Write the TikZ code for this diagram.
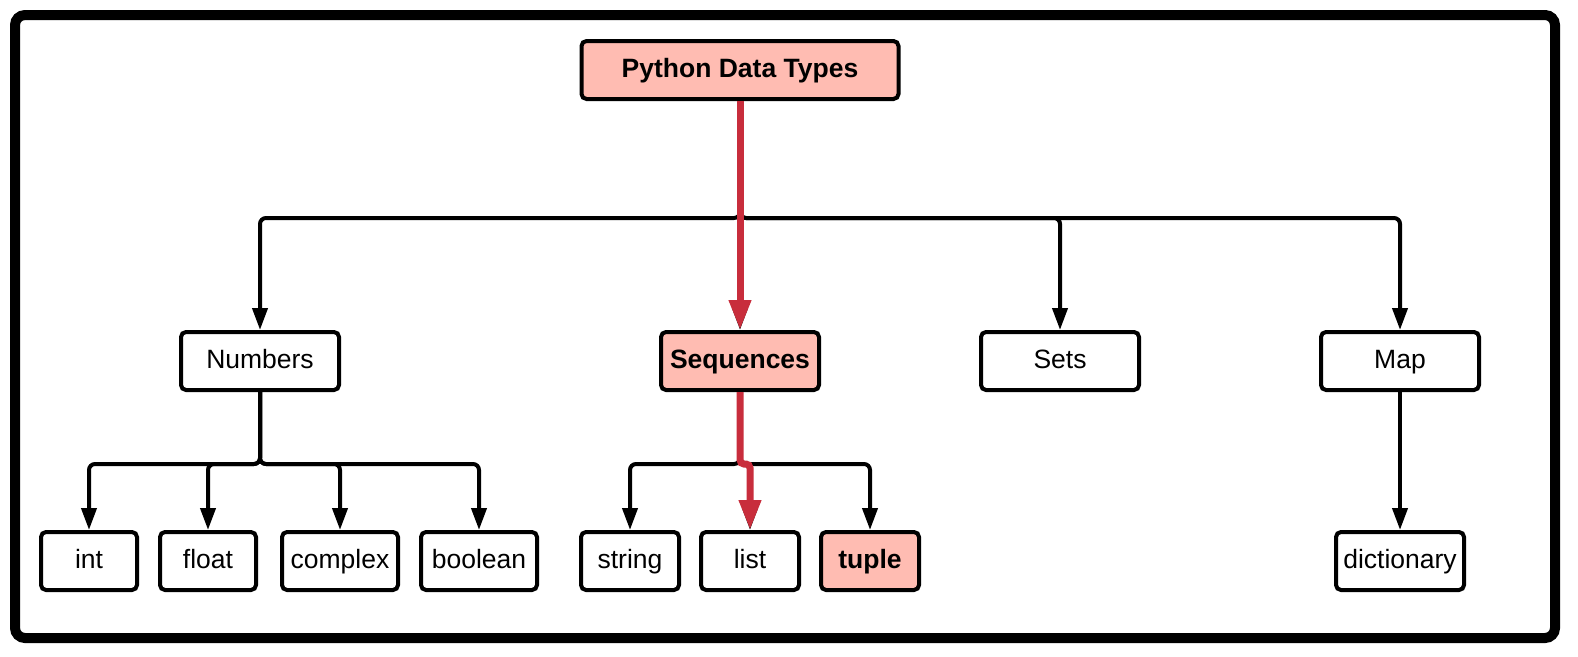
\documentclass[tikz,border=0pt]{standalone}
\usepackage{fontspec}
\setmainfont{Liberation Sans}
\usetikzlibrary{arrows.meta}
\usepackage{xcolor}
\definecolor{boxpink}{RGB}{255,188,178}
\definecolor{pathred}{RGB}{200,45,60}

\begin{document}
\begin{tikzpicture}[x=1pt,y=-1pt,
	box/.style={draw,line width=4pt,rounded corners=5pt,inner sep=0pt,
		minimum height=58pt,text height=19pt,text depth=5pt,
		font=\fontsize{26.5}{32}\selectfont},
	hl/.style={box,fill=boxpink,font=\fontsize{26.5}{32}\selectfont\bfseries},
	link/.style={line width=4pt,rounded corners=6pt,
		-{Triangle[length=22pt,width=15pt]}},
	redlink/.style={line width=7pt,pathred,rounded corners=4pt,
		-{Triangle[length=30pt,width=21pt]}}]
	\useasboundingbox (0,0) rectangle (1578,656);
	\draw[line width=10pt,rounded corners=10pt] (15,15) rectangle (1555,638);
	\node[hl,minimum width=317pt] (pdt) at (740,70) {Python Data Types};
	\foreach \n/\x/\t in {num/260/Numbers, sets/1060/Sets, map/1400/Map}
		\node[box,minimum width=158pt] (\n) at (\x,361) {\t};
	\node[hl,minimum width=158pt] (seq) at (740,361) {Sequences};
	\foreach \n/\x/\w/\t in {
			int/89/96/int,
			flt/208/96/float,
			cpx/340/116/complex,
			bool/479/116/boolean,
			str/630/98/string,
			lst/750/98/list,
			dict/1400/128/dictionary}
		\node[box,minimum width=\w pt] (\n) at (\x,561) {\t};
	\node[hl,minimum width=98pt] (tup) at (870,561) {tuple};
	\foreach \c in {num,seq,sets,map}
		\draw[link] (pdt.south) -- ++(0,117) -| (\c.north);
	\foreach \c in {int,flt,cpx,bool}
		\draw[link] (num.south) -- ++(0,72) -| (\c.north);
	\foreach \c in {str,lst,tup}
		\draw[link] (seq.south) -- ++(0,72) -| (\c.north);
	\draw[link] (map) -- (dict);
	\draw[redlink] (pdt.south) -- (seq.north);
	\draw[redlink] (seq.south) -- ++(0,72) -| (lst.north);
\end{tikzpicture}
\end{document}
